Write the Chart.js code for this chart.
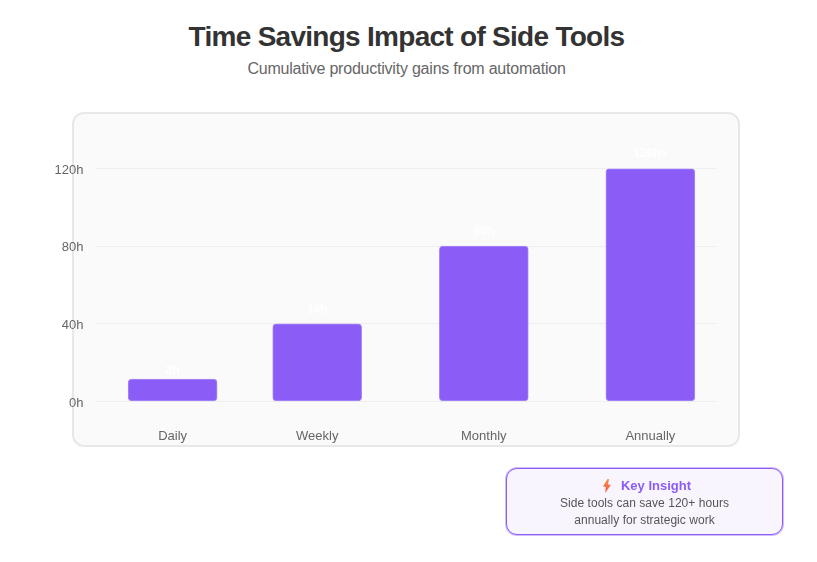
<!DOCTYPE html>
<html>
<head>
<meta charset="utf-8">
<script src="https://cdn.jsdelivr.net/npm/chart.js@4"></script>
<style>
html, body { margin: 0; padding: 0; background: #fff; overflow: hidden; }
body { width: 817px; height: 562px; position: relative; font-family: "Liberation Sans", Arial, sans-serif; }
h1 { position: absolute; left: 0; width: 813px; top: 20px; margin: 0; text-align: center; font-size: 28px; line-height: 33px; font-weight: bold; color: #333; letter-spacing: -0.72px; }
.sub { position: absolute; left: 0; width: 813px; top: 59px; text-align: center; font-size: 16px; line-height: 19px; color: #666; letter-spacing: -0.22px; }
.card { position: absolute; left: 72px; top: 112px; width: 664px; height: 331px; background: #fafafa; border: 2px solid #e8e8e8; border-radius: 12px; }
canvas { position: absolute; left: 0; top: 0; }
.insight { position: absolute; left: 506px; top: 468px; width: 275px; height: 65px; background: #f8f5ff; border: 1px solid #8b5cf6; box-shadow: 0 0 0 1px rgba(139, 92, 246, 0.4); border-radius: 11px; text-align: center; }
.insight b { display: block; margin-top: 9px; padding-left: 4px; font-size: 13px; line-height: 16px; color: #8b5cf6; }
.insight b svg { vertical-align: -3px; margin-right: 9px; }
.insight span { display: block; font-size: 12px; line-height: 17px; color: #555; letter-spacing: 0.04px; }
.insight span.first { margin-top: 1px; }
</style>
</head>
<body>
<h1>Time Savings Impact of Side Tools</h1>
<div class="sub">Cumulative productivity gains from automation</div>
<div class="card"></div>
<canvas id="chart" width="817" height="562"></canvas>
<div class="insight">
  <b><svg width="10" height="14" viewBox="0 0 10 14"><defs><linearGradient id="bolt" x1="0" y1="0" x2="0" y2="1"><stop offset="0" stop-color="#fb923c"/><stop offset="1" stop-color="#ef5350"/></linearGradient></defs><path d="M5.5 0 L1 7.5 L3.8 8 L3.2 14 L9 5.8 L6 5.5 L7 0 Z" fill="url(#bolt)"/></svg>Key Insight</b>
  <span class="first">Side tools can save 120+ hours</span>
  <span>annually for strategic work</span>
</div>
<script>
var categories = ["Daily", "Weekly", "Monthly", "Annually"];
// slots along the x axis, the first gap is narrower in the original
var slots = [0, 0.868, 1.868, 2.868];
var hours = [11.5, 40, 80, 120];
var barLabels = ["2h", "14h", "60h", "120h+"];
// height on the hours axis where each white label sits
var labelLevels = [16, 47.2, 87.6, 127.8];
var yTicks = [0, 40, 80, 120];

var barLabelPlugin = {
    id: 'barLabels',
    afterDatasetsDraw: function(chart) {
        var ctx = chart.ctx;
        var bars = chart.getDatasetMeta(0).data;
        ctx.save();
        ctx.fillStyle = '#ffffff';
        ctx.font = 'bold 12px "Liberation Sans"';
        ctx.textAlign = 'center';
        ctx.textBaseline = 'middle';
        bars.forEach(function(bar, i) {
            ctx.fillText(barLabels[i], bar.x, chart.scales.y.getPixelForValue(labelLevels[i]));
        });
        ctx.restore();
    }
};

var ctx = document.getElementById("chart").getContext('2d');
var mychart = new Chart(ctx, {
    type: 'bar',
    data: {
        datasets: [{
            data: hours.map(function(h, i) { return { x: slots[i], y: h }; }),
            backgroundColor: '#8b5cf6',
            borderColor: '#a78bfa',
            borderWidth: 1,
            borderRadius: 4,
            borderSkipped: false,
            barThickness: 89
        }]
    },
    options: {
        responsive: false,
        animation: false,
        layout: { padding: { left: 52.5, right: 100, top: 168.5, bottom: 115.5 } },
        plugins: { legend: { display: false }, tooltip: { enabled: false } },
        scales: {
            x: {
                type: 'linear',
                offset: false,
                min: -0.469,
                max: 3.268,
                afterBuildTicks: function(axis) {
                    axis.ticks = slots.map(function(s) { return { value: s }; });
                },
                afterFit: function(axis) { axis.height = 45; },
                ticks: {
                    autoSkip: false,
                    maxRotation: 0,
                    padding: 27,
                    color: '#666',
                    font: { family: '"Liberation Sans"', size: 13 },
                    callback: function(v, i) { return categories[i]; }
                },
                grid: { display: false, drawTicks: false },
                border: { display: false }
            },
            y: {
                min: 0,
                max: 120,
                afterBuildTicks: function(axis) {
                    axis.ticks = yTicks.map(function(t) { return { value: t }; });
                },
                afterFit: function(axis) { axis.width = 42; },
                ticks: {
                    padding: 11,
                    labelOffset: 1.5,
                    color: '#666',
                    font: { family: '"Liberation Sans"', size: 13 },
                    callback: function(v) { return v + 'h'; }
                },
                grid: { color: '#eeeeee', drawTicks: false },
                border: { display: false }
            }
        }
    },
    plugins: [barLabelPlugin]
});
</script>
</body>
</html>
